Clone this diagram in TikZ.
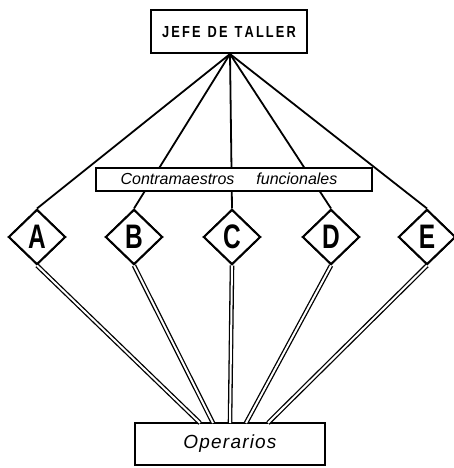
\documentclass[tikz,border=0pt]{standalone}
\usepackage{fontspec}
\setmainfont{Liberation Sans}
\usetikzlibrary{shapes.geometric}
\newcommand{\dlet}[1]{\scalebox{0.72}[1]{\bfseries\fontsize{34}{34}\selectfont #1}}
\begin{document}
\begin{tikzpicture}[x=1pt,y=-1pt,
  box/.style={draw,line width=2pt,fill=white,inner sep=0pt},
  dia/.style={draw,diamond,line width=2pt,fill=white,minimum width=57pt,minimum height=55pt,inner sep=0pt},
  thin/.style={line width=1.8pt},
  dbl/.style={double,line width=1.3pt,double distance=2pt}]
\useasboundingbox (0,0) rectangle (454,468);
\coordinate (apex) at (230,54);
\node[dia] (A) at (37,237) {\dlet{A}};
\node[dia] (B) at (134,237) {\dlet{B}};
\node[dia] (C) at (232,237) {\dlet{C}};
\node[dia] (D) at (331,237) {\dlet{D}};
\node[dia] (E) at (427,237) {\dlet{E}};
% lines from apex to diamond tops
\draw[thin] (apex) -- (A.north);
\draw[thin] (apex) -- (B.north);
\draw[thin] (apex) -- (C.north);
\draw[thin] (apex) -- (D.north);
\draw[thin] (apex) -- (E.north);
% boxes
\node[box,minimum width=156pt,minimum height=43pt,font=\bfseries\fontsize{16}{16}\selectfont] (jefe) at (229,32) {\scalebox{0.8}[1]{J\,E\,F\,E\ \ D\,E\ \ T\,A\,L\,L\,E\,R}};
\node[box,minimum width=276pt,minimum height=23pt,font=\itshape\fontsize{16}{16}\selectfont] (contra) at (234,179) {\hspace*{-10pt}Contramaestros\hspace{22pt}funcionales};
\node[box,minimum width=190pt,minimum height=42pt,font=\itshape\fontsize{19}{19}\selectfont] (oper) at (230,444) {O\kern1.2pt p\kern1.2pt e\kern1.2pt r\kern1.2pt a\kern1.2pt r\kern1.2pt i\kern1.2pt o\kern1.2pt s};
% diamonds on top of the lines
\node[dia] at (A) {\dlet{A}};
\node[dia] at (B) {\dlet{B}};
\node[dia] at (C) {\dlet{C}};
\node[dia] at (D) {\dlet{D}};
\node[dia] at (E) {\dlet{E}};
% double lines
\coordinate (oa) at (200,423);
\coordinate (ob) at (213,423);
\coordinate (oc) at (230,423);
\coordinate (od) at (246,423);
\coordinate (oe) at (268,423);
\draw[dbl] (A.south) -- (oa);
\draw[dbl] (B.south) -- (ob);
\draw[dbl] (C.south) -- (oc);
\draw[dbl] (D.south) -- (od);
\draw[dbl] (E.south) -- (oe);
\end{tikzpicture}
\end{document}
